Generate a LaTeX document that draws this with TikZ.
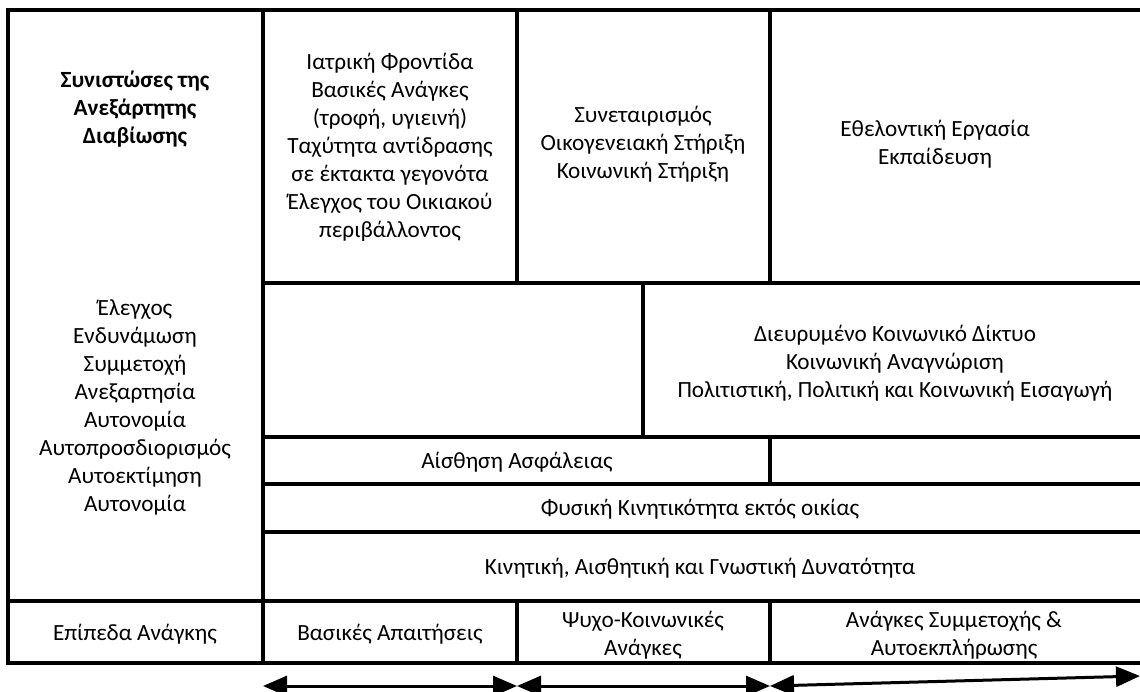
\documentclass[tikz,border=0pt]{standalone}
\usepackage{fontspec}
\setmainfont{Carlito}
\usetikzlibrary{arrows.meta}

\begin{document}
\begin{tikzpicture}[x=0.5pt,y=-0.5pt,
  grid/.style={line width=1.7pt},
  cell/.style={align=center,font=\fontsize{11.6}{14}\selectfont,inner sep=0pt},
  span/.style={line width=1.5pt,{Triangle[length=12pt,width=10pt]}-{Triangle[length=12pt,width=10pt]}}]
  \useasboundingbox (0,0) rectangle (1140,691);
  % outer frame, open on the right
  \draw[grid] (1140,10) -- (8,10) -- (8,663) -- (1140,663);
  \draw[grid] (263,10) -- (263,663);
  \draw[grid] (8,601) -- (1140,601);
  % upper block
  \draw[grid] (517,10) -- (517,283);
  \draw[grid] (770,10) -- (770,283);
  \draw[grid] (263,283) -- (1140,283);
  \draw[grid] (643,283) -- (643,437);
  \draw[grid] (263,437) -- (1140,437);
  \draw[grid] (770,437) -- (770,484);
  \draw[grid] (263,484) -- (1140,484);
  \draw[grid] (263,532) -- (1140,532);
  % bottom row
  \draw[grid] (517,601) -- (517,663);
  \draw[grid] (770,601) -- (770,663);

  \node[cell,font=\fontsize{11.6}{13.8}\selectfont\bfseries] (title) at (135,109)
    {Συνιστώσες της\\Ανεξάρτητης\\Διαβίωσης};
  \node[cell] (values) at (135,407)
    {Έλεγχος\\Ενδυνάμωση\\Συμμετοχή\\Ανεξαρτησία\\Αυτονομία\\Αυτοπροσδιορισμός\\Αυτοεκτίμηση\\Αυτονομία};
  \node[cell] (care) at (390,147)
    {Ιατρική Φροντίδα\\Βασικές Ανάγκες\\(τροφή, υγιεινή)\\Ταχύτητα αντίδρασης\\σε έκτακτα γεγονότα\\Έλεγχος του Οικιακού\\περιβάλλοντος};
  \node[cell] (support) at (643,144)
    {Συνεταιρισμός\\Οικογενειακή Στήριξη\\Κοινωνική Στήριξη};
  \node[cell] (volunteer) at (935,144)
    {Εθελοντική Εργασία\\Εκπαίδευση};
  \node[cell] (network) at (895,363)
    {Διευρυμένο Κοινωνικό Δίκτυο\\Κοινωνική Αναγνώριση\\Πολιτιστική, Πολιτική και Κοινωνική Εισαγωγή};
  \node[cell] (safety) at (517,462) {Αίσθηση Ασφάλειας};
  \node[cell] (mobility) at (700,509) {Φυσική Κινητικότητα εκτός οικίας};
  \node[cell] (ability) at (700,568) {Κινητική, Αισθητική και Γνωστική Δυνατότητα};
  \node[cell] (levels) at (135,634) {Επίπεδα Ανάγκης};
  \node[cell] (basic) at (390,634) {Βασικές Απαιτήσεις};
  \node[cell] (psycho) at (643,635) {Ψυχο-Κοινωνικές\\Ανάγκες};
  \node[cell] (selfreal) at (954,635) {Ανάγκες Συμμετοχής \&\\Αυτοεκπλήρωσης};

  % spans under the columns
  \coordinate (s0) at (263,686);
  \coordinate (s1) at (517,686);
  \coordinate (s2) at (770,686);
  \coordinate (s3) at (1140,676);
  \draw[span] (s0) -- (s1);
  \draw[span] (s1) -- (s2);
  \draw[span] (s2) -- (s3);
\end{tikzpicture}
\end{document}
